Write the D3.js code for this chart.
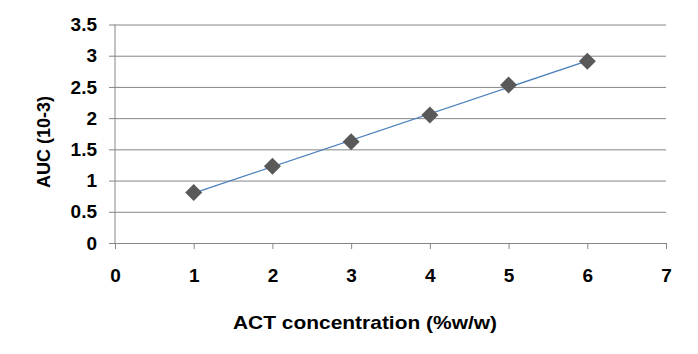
<!DOCTYPE html>
<html>
<head>
<meta charset="utf-8">
<script src="https://cdn.jsdelivr.net/npm/d3@7"></script>
<style>
  body { margin: 0; background: #fff; }
  text { font-family: Arial, "Liberation Sans", sans-serif; font-weight: bold; fill: #000; }
</style>
</head>
<body>
<svg id="chart" width="698" height="354"></svg>
<script>
// data
const concentration = [1, 2, 3, 4, 5, 6]
const auc = [0.81, 1.23, 1.62, 2.05, 2.53, 2.91]
const xTicks = [0, 1, 2, 3, 4, 5, 6, 7]
const yTicks = [0, 0.5, 1, 1.5, 2, 2.5, 3, 3.5]

const margin = { top: 24.5, right: 32, bottom: 111, left: 115 }
const width = 698 - margin.left - margin.right
const height = 354 - margin.top - margin.bottom

const svg = d3.select('#chart')
const g = svg.append('g')
  .attr('transform', 'translate(' + margin.left + ',' + margin.top + ')')

const x = d3.scaleLinear().domain([0, 7]).range([0, width])
const y = d3.scaleLinear().domain([0, 3.5]).range([height, 0])

// horizontal gridlines + y axis
const yAxis = g.append('g')
  .attr('transform', 'translate(-6,0)')
  .call(d3.axisLeft(y).tickValues(yTicks).tickSize(-width - 6)
    .tickFormat(d3.format('')))
yAxis.select('.domain').remove()
yAxis.selectAll('line').attr('stroke', '#868686')
yAxis.selectAll('text')
  .attr('x', -12)
  .style('font-size', '19px')

g.append('line')
  .attr('x1', 0).attr('x2', 0).attr('y1', 0).attr('y2', height)
  .attr('stroke', '#868686')

// x axis
const xAxis = g.append('g')
  .attr('transform', 'translate(0,' + height + ')')
  .call(d3.axisBottom(x).tickValues(xTicks).tickSizeOuter(0).tickSize(6).tickPadding(20)
    .tickFormat(d3.format('d')))
xAxis.select('.domain').attr('stroke', '#868686')
xAxis.selectAll('line').attr('stroke', '#868686')
xAxis.selectAll('text').style('font-size', '19px')

// linear trendline from the points
const n = concentration.length
const mx = d3.mean(concentration)
const my = d3.mean(auc)
const slope = d3.sum(concentration, (d, i) => (d - mx) * (auc[i] - my)) /
  d3.sum(concentration, d => (d - mx) * (d - mx))
const icpt = my - slope * mx
const ends = [concentration[0], concentration[n - 1]]

g.append('path')
  .datum(ends)
  .attr('fill', 'none')
  .attr('stroke', '#4a7ebb')
  .attr('stroke-width', 1.2)
  .attr('d', d3.line().x(d => x(d)).y(d => y(icpt + slope * d)))

// diamond markers
g.selectAll('.pt')
  .data(concentration)
  .enter()
  .append('path')
  .attr('class', 'pt')
  .attr('transform', (d, i) => 'translate(' + x(d) + ',' + y(auc[i]) + ')')
  .attr('d', 'M0,-8.5L8.5,0L0,8.5L-8.5,0Z')
  .attr('fill', '#595959')

// axis titles
svg.append('text')
  .attr('x', 365)
  .attr('y', 329)
  .attr('text-anchor', 'middle')
  .attr('textLength', 264)
  .attr('lengthAdjust', 'spacingAndGlyphs')
  .style('font-size', '19px')
  .text('ACT concentration (%w/w)')

svg.append('text')
  .attr('transform', 'translate(50,142) rotate(-90)')
  .attr('text-anchor', 'middle')
  .style('font-size', '18px')
  .text('AUC (10-3)')
</script>
</body>
</html>
